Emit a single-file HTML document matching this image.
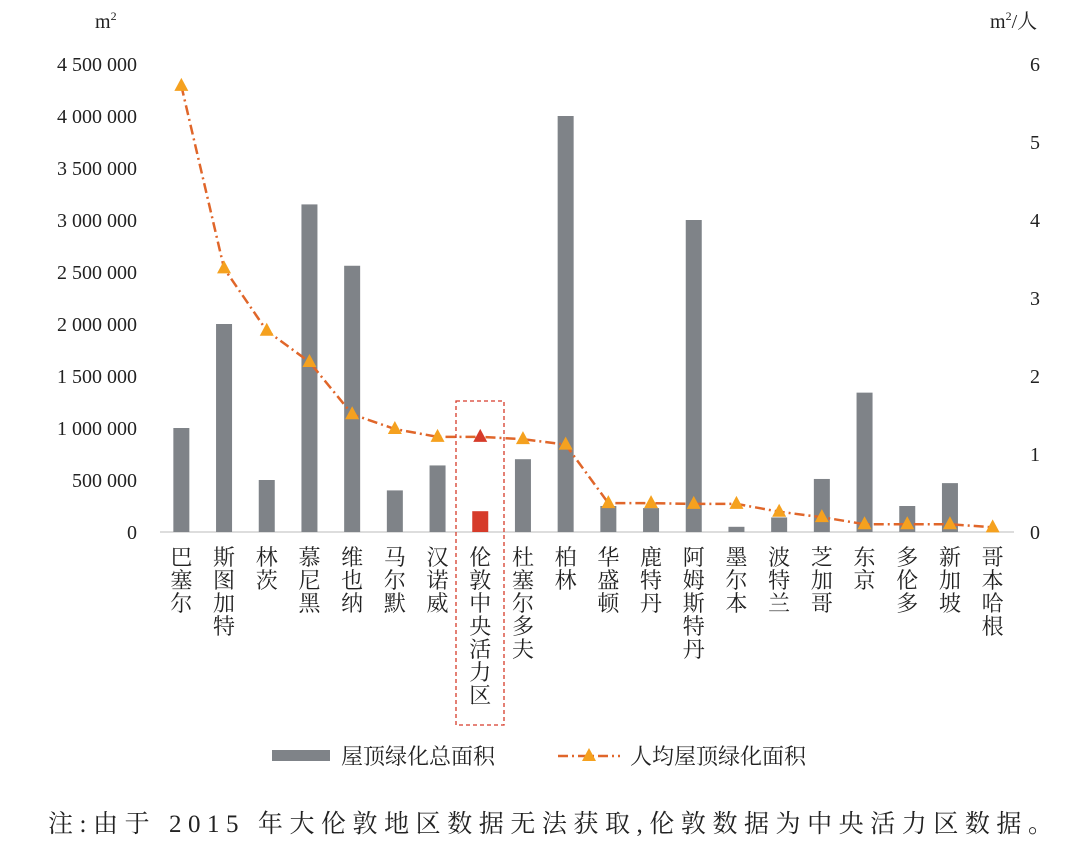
<!DOCTYPE html>
<html><head><meta charset="utf-8"><style>
body{margin:0;background:#fff;}
svg text{font-family:"Liberation Serif","Noto Serif CJK SC","Noto Sans CJK SC",serif;fill:#222;}
</style></head><body>
<svg id="chart" width="1081" height="845" xmlns="http://www.w3.org/2000/svg"></svg>
<script>
const categories=["巴塞尔","斯图加特","林茨","慕尼黑","维也纳","马尔默","汉诺威","伦敦中央活力区","杜塞尔多夫","柏林","华盛顿","鹿特丹","阿姆斯特丹","墨尔本","波特兰","芝加哥","东京","多伦多","新加坡","哥本哈根"];
const totalArea=[1000000,2000000,500000,3150000,2560000,400000,640000,200000,700000,4000000,250000,230000,3000000,50000,140000,510000,1340000,250000,470000,0];
const perCapita=[5.72,3.38,2.58,2.18,1.51,1.32,1.22,1.22,1.19,1.12,0.37,0.37,0.36,0.36,0.26,0.19,0.1,0.1,0.1,0.06];
const leftTicks=[0,500000,1000000,1500000,2000000,2500000,3000000,3500000,4000000,4500000];
const rightTicks=[0,1,2,3,4,5,6];
const highlightIndex=7;
const NS="http://www.w3.org/2000/svg";
const svg=document.getElementById('chart');
function mk(t,a,txt){const e=document.createElementNS(NS,t);for(const k in a)e.setAttribute(k,a[k]);if(txt!==undefined)e.textContent=txt;svg.appendChild(e);return e;}
const x0=160,x1=1014,yB=532,yT=64;
const yL=v=>yB-(v/4500000)*(yB-yT);
const yR=v=>yB-(v/6)*(yB-yT);
const step=(x1-x0)/categories.length;
const xc=i=>x0+step*(i+0.5);
const fmt=v=>String(v).replace(/\B(?=(\d{3})+(?!\d))/g," ");
let e=mk('line',{x1:x0,x2:x1,y1:yB,y2:yB,stroke:'#bbb','stroke-width':1});

leftTicks.forEach(v=>{const t=mk('text',{x:137,y:yL(v)+7,'text-anchor':'end','font-size':20},fmt(v));
});
rightTicks.forEach(v=>{const t=mk('text',{x:1030,y:yR(v)+7,'font-size':20},String(v));
});
e=mk('text',{x:95,y:28,'font-size':20});
e.innerHTML='m<tspan font-size="12" dy="-8">2</tspan>';
e=mk('text',{x:990,y:28,'font-size':20});
e.innerHTML='m<tspan font-size="12" dy="-8">2</tspan><tspan dy="8">/人</tspan>';
totalArea.forEach((v,i)=>{const b=mk('rect',{x:xc(i)-8,y:yL(v),width:16,height:yB-yL(v),fill:i===highlightIndex?'#d63b2a':'#7f8388'});
});
e=mk('rect',{x:456,y:401,width:48,height:324,fill:'none',stroke:'#d63b2a','stroke-width':1.3,'stroke-dasharray':'4,3'});

const pts=perCapita.map((v,i)=>xc(i)+','+yR(v)).join(' ');
e=mk('polyline',{points:pts,fill:'none',stroke:'#e0662a','stroke-width':2.5,'stroke-dasharray':'10,4,2,4'});

perCapita.forEach((v,i)=>{const x=xc(i),y=yR(v);const p=mk('polygon',{points:`${x},${y-8} ${x-7},${y+5} ${x+7},${y+5}`,fill:i===highlightIndex?'#d63b2a':'#f5a11f'});
});
categories.forEach((c,i)=>{const g=mk('text',{'font-size':22,'text-anchor':'middle'});

[...c].forEach((ch,k)=>{const s=document.createElementNS(NS,'tspan');s.setAttribute('x',xc(i));s.setAttribute('y',565+k*23);s.textContent=ch;g.appendChild(s);});});
e=mk('rect',{x:272,y:750,width:58,height:11,fill:'#7f8388'});
e=mk('text',{x:341,y:764,'font-size':22},'屋顶绿化总面积');
e=mk('line',{x1:558,x2:620,y1:756,y2:756,stroke:'#e0662a','stroke-width':2.5,'stroke-dasharray':'10,4,2,4'});
e=mk('polygon',{points:'589,748 582,761 596,761',fill:'#f5a11f'});
e=mk('text',{x:630,y:764,'font-size':22},'人均屋顶绿化面积');
e=mk('text',{x:48,y:832,'font-size':25,textLength:1005,lengthAdjust:'spacing'},'注:由于 2015 年大伦敦地区数据无法获取,伦敦数据为中央活力区数据。');

</script>
</body></html>
